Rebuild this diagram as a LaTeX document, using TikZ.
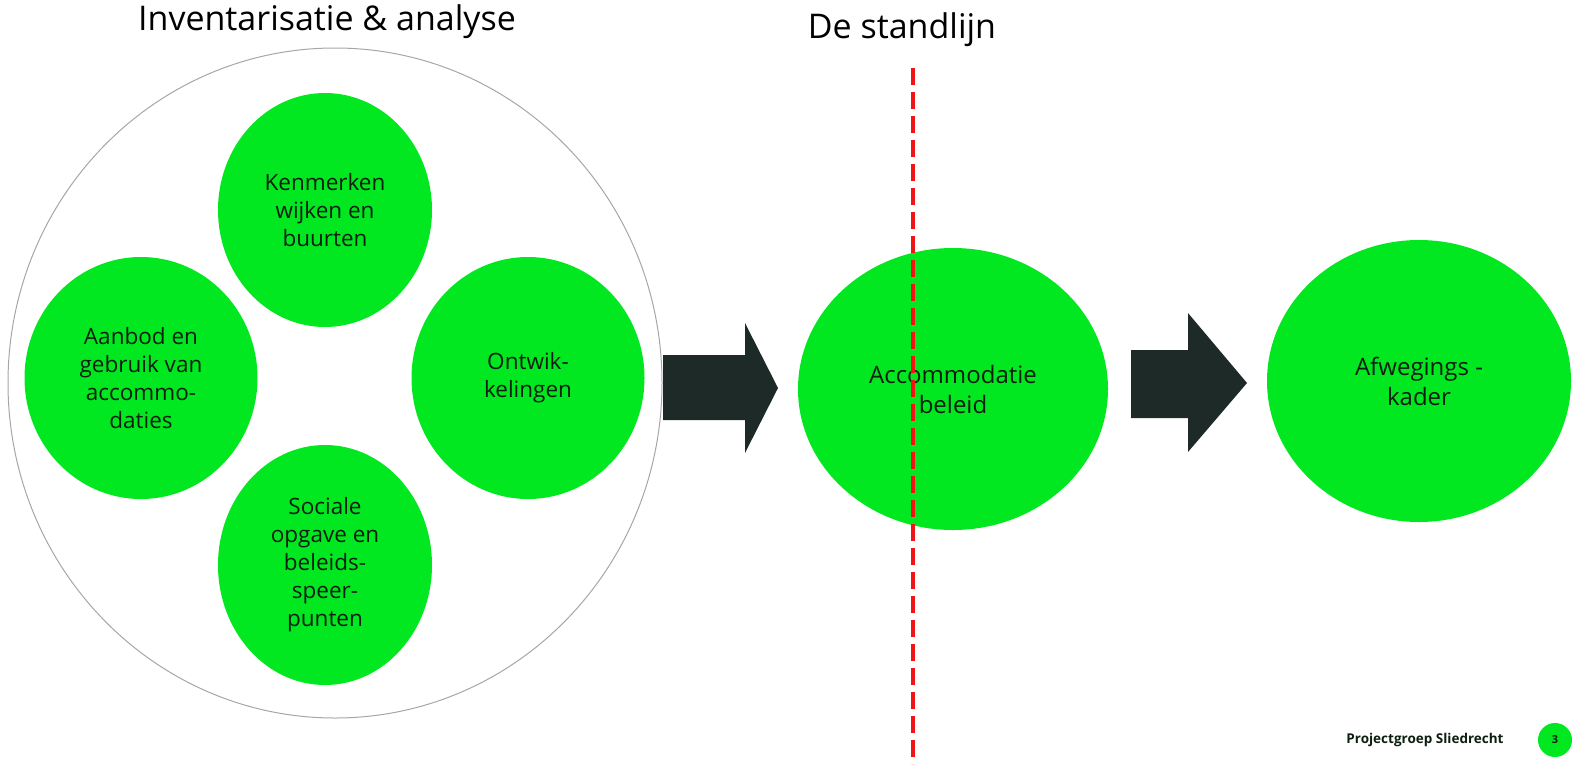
\documentclass[tikz,border=0pt]{standalone}
\usepackage{fontspec}
\setmainfont{Open Sans}
\usetikzlibrary{shapes.geometric,shapes.arrows}
\definecolor{lime}{RGB}{2,232,32}
\definecolor{arrowdark}{RGB}{30,42,40}
\definecolor{dashred}{RGB}{240,20,20}
\definecolor{txt}{RGB}{12,30,14}
\begin{document}
\begin{tikzpicture}[x=1pt,y=-1pt,
  blob/.style={ellipse,fill=lime,draw=none,inner sep=0pt,align=center,text=txt,font=\fontsize{22.5}{28}\selectfont},
  bigblob/.style={ellipse,fill=lime,draw=none,inner sep=0pt,align=center,text=txt,font=\fontsize{24}{30}\selectfont},
  title/.style={font=\fontsize{34}{40}\selectfont,anchor=center}]
\useasboundingbox (0,0) rectangle (1572,764);
% outer circle
\node[ellipse,draw=gray!70,line width=1pt,minimum width=654,minimum height=670] (outer) at (335,383) {};
\node[title] (t1) at (327,22) {Inventarisatie \& analyse};
\node[title] (t2) at (902,30) {De standlijn};
% inner circles
\node[blob,minimum width=214,minimum height=234] (ken) at (325,210) {Kenmerken\\wijken en\\buurten};
\node[blob,minimum width=233,minimum height=242] (aan) at (141,378) {Aanbod en\\gebruik van\\accommo-\\daties};
\node[blob,minimum width=233,minimum height=242] (ont) at (528,378) {Ontwik-\\kelingen};
\node[blob,minimum width=214,minimum height=240] (soc) at (325,565) {Sociale\\opgave en\\beleids-\\speer-\\punten};
% big ellipses
\node[bigblob,minimum width=310,minimum height=282] (acc) at (953,389) {Accommodatie\\beleid};
\node[bigblob,minimum width=304,minimum height=282] (afw) at (1419,381) {Afwegings -\\kader};
% arrows
\fill[arrowdark] (663,355) -- (745,355) -- (745,323) -- (778,388) -- (745,453) -- (745,420) -- (663,420) -- cycle;
\fill[arrowdark] (1131,350) -- (1188,350) -- (1188,313) -- (1247,383) -- (1188,452) -- (1188,418) -- (1131,418) -- cycle;
% dashed line
\coordinate (dtop) at (913,68);
\coordinate (dbot) at (913,764);
\draw[dashred,line width=4.5pt,dash pattern=on 17pt off 7pt] (dtop) -- (dbot);
% footer
\node[font=\bfseries\fontsize{13.5}{16}\selectfont,text=txt] (foot) at (1425,740) {Projectgroep Sliedrecht};
\node[circle,fill=lime,minimum size=34,inner sep=0pt,text=txt,font=\bfseries\fontsize{11}{13}\selectfont] (num) at (1555,740) {3};
\end{tikzpicture}
\end{document}
